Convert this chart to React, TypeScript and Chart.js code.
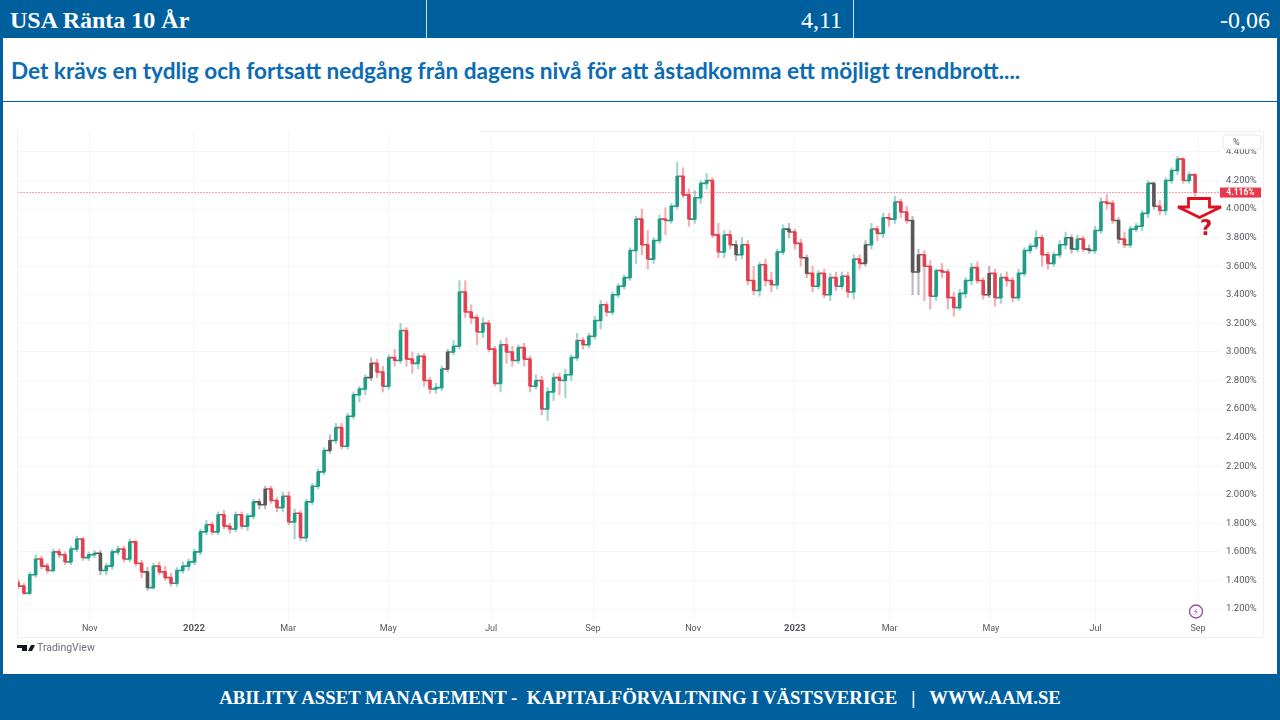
import React, { useEffect, useRef } from "react";
import { Chart, registerables } from "chart.js";

Chart.register(...registerables);

const headerTitle = "USA Ränta 10 År";
const headerValue = "4,11";
const headerChange = "-0,06";
const subtitle = "Det krävs en tydlig och fortsatt nedgång från dagens nivå för att åstadkomma ett möjligt trendbrott....";
const footerText = "ABILITY ASSET MANAGEMENT -  KAPITALFÖRVALTNING I VÄSTSVERIGE   |   WWW.AAM.SE";

const opens = [
  1.39,1.36,1.31,1.44,1.55,1.50,1.47,1.60,1.58,1.53,
  1.62,1.69,1.56,1.58,1.59,1.47,1.50,1.60,1.62,1.55,
  1.67,1.52,1.46,1.35,1.50,1.46,1.42,1.38,1.47,1.50,
  1.53,1.60,1.74,1.79,1.74,1.86,1.78,1.76,1.86,1.78,
  1.85,1.95,1.93,2.04,1.96,1.91,1.99,1.81,1.87,1.70,
  1.95,2.06,2.16,2.31,2.38,2.47,2.34,2.55,2.70,2.74,
  2.82,2.92,2.86,2.76,2.96,2.94,3.15,2.95,2.92,2.97,
  2.80,2.74,2.75,2.88,3.00,3.04,3.42,3.28,3.24,3.14,
  3.20,3.02,2.78,3.05,3.00,2.94,3.03,2.95,2.76,2.80,
  2.60,2.72,2.82,2.80,2.84,2.96,3.08,3.05,3.11,3.22,
  3.33,3.28,3.40,3.46,3.52,3.71,3.93,3.75,3.65,3.78,
  3.93,3.92,4.02,4.23,4.10,3.93,4.08,4.18,4.20,3.82,
  3.70,3.82,3.75,3.68,3.75,3.50,3.43,3.61,3.50,3.47,
  3.70,3.86,3.84,3.76,3.66,3.55,3.46,3.55,3.40,3.52,
  3.46,3.53,3.42,3.65,3.62,3.75,3.86,3.83,3.94,3.93,
  4.05,3.98,3.92,3.56,3.68,3.60,3.39,3.57,3.56,3.38,
  3.31,3.41,3.50,3.59,3.50,3.40,3.55,3.38,3.52,3.50,
  3.38,3.55,3.71,3.74,3.80,3.68,3.62,3.68,3.75,3.80,
  3.72,3.79,3.72,3.71,3.85,4.05,4.04,3.92,3.79,3.75,
  3.86,3.88,3.97,4.18,4.02,3.99,4.20,4.27,4.35,4.20,
  4.24,
];
const closes = [
  1.36,1.31,1.44,1.55,1.50,1.47,1.60,1.58,1.53,1.62,
  1.69,1.56,1.58,1.59,1.47,1.50,1.60,1.62,1.55,1.67,
  1.52,1.46,1.35,1.50,1.46,1.42,1.38,1.47,1.50,1.53,
  1.60,1.74,1.79,1.74,1.86,1.78,1.76,1.86,1.78,1.85,
  1.95,1.93,2.04,1.96,1.91,1.99,1.81,1.87,1.70,1.95,
  2.06,2.16,2.31,2.38,2.47,2.34,2.55,2.70,2.74,2.82,
  2.92,2.86,2.76,2.96,2.94,3.15,2.95,2.92,2.97,2.80,
  2.74,2.75,2.88,3.00,3.04,3.42,3.28,3.24,3.14,3.20,
  3.02,2.78,3.05,3.00,2.94,3.03,2.95,2.76,2.80,2.60,
  2.72,2.82,2.80,2.84,2.96,3.08,3.05,3.11,3.22,3.33,
  3.28,3.40,3.46,3.52,3.71,3.93,3.75,3.65,3.78,3.93,
  3.92,4.02,4.23,4.10,3.93,4.08,4.18,4.20,3.82,3.70,
  3.82,3.75,3.68,3.75,3.50,3.43,3.61,3.50,3.47,3.70,
  3.86,3.84,3.76,3.66,3.55,3.46,3.55,3.40,3.52,3.46,
  3.53,3.42,3.65,3.62,3.75,3.86,3.83,3.94,3.93,4.05,
  3.98,3.92,3.56,3.68,3.60,3.39,3.57,3.56,3.38,3.31,
  3.41,3.50,3.59,3.50,3.40,3.55,3.38,3.52,3.50,3.38,
  3.55,3.71,3.74,3.80,3.68,3.62,3.68,3.75,3.80,3.72,
  3.79,3.72,3.71,3.85,4.05,4.04,3.92,3.79,3.75,3.86,
  3.88,3.97,4.18,4.02,3.99,4.20,4.27,4.35,4.20,4.24,
  4.116,
];
const highs = [
  1.41,1.38,1.46,1.58,1.57,1.52,1.62,1.62,1.60,1.64,
  1.71,1.70,1.60,1.61,1.61,1.52,1.62,1.64,1.64,1.69,
  1.68,1.54,1.49,1.52,1.53,1.50,1.45,1.49,1.53,1.55,
  1.62,1.76,1.82,1.81,1.88,1.89,1.80,1.88,1.88,1.87,
  1.97,1.97,2.06,2.06,1.98,2.02,2.02,1.90,1.89,1.97,
  2.08,2.18,2.33,2.42,2.50,2.50,2.57,2.72,2.76,2.84,
  2.96,2.95,2.90,2.98,3.02,3.20,3.17,3.00,2.99,2.99,
  2.82,2.78,2.90,3.02,3.08,3.50,3.50,3.33,3.26,3.24,
  3.22,3.04,3.08,3.10,3.04,3.05,3.06,2.97,2.84,2.83,
  2.75,2.85,2.85,2.88,2.98,3.13,3.10,3.13,3.25,3.36,
  3.35,3.42,3.48,3.54,3.73,3.95,4.00,3.85,3.80,3.96,
  4.01,4.04,4.33,4.29,4.14,4.13,4.20,4.25,4.22,3.90,
  3.85,3.85,3.78,3.80,3.78,3.60,3.63,3.65,3.56,3.72,
  3.89,3.90,3.86,3.79,3.68,3.60,3.57,3.58,3.55,3.56,
  3.56,3.56,3.68,3.68,3.78,3.90,3.88,3.97,3.97,4.09,
  4.07,4.02,3.95,3.72,3.71,3.64,3.58,3.62,3.58,3.42,
  3.44,3.52,3.62,3.63,3.52,3.60,3.58,3.55,3.56,3.52,
  3.58,3.73,3.76,3.85,3.82,3.70,3.70,3.78,3.84,3.82,
  3.82,3.81,3.75,3.88,4.08,4.10,4.06,3.94,3.84,3.88,
  3.90,3.99,4.20,4.19,4.06,4.22,4.29,4.37,4.36,4.26,
  4.25,
];
const lows = [
  1.34,1.30,1.30,1.42,1.48,1.45,1.46,1.56,1.51,1.51,
  1.60,1.54,1.54,1.56,1.44,1.44,1.48,1.58,1.53,1.53,
  1.50,1.42,1.33,1.34,1.44,1.40,1.36,1.36,1.45,1.47,
  1.51,1.58,1.72,1.72,1.72,1.76,1.73,1.74,1.76,1.75,
  1.83,1.90,1.90,1.94,1.88,1.88,1.79,1.69,1.68,1.67,
  1.93,2.04,2.14,2.29,2.36,2.32,2.32,2.53,2.65,2.70,
  2.80,2.82,2.72,2.74,2.90,2.92,2.90,2.85,2.88,2.76,
  2.71,2.71,2.73,2.86,2.98,3.02,3.24,3.20,3.05,3.10,
  3.00,2.76,2.72,2.92,2.90,2.92,2.90,2.72,2.74,2.56,
  2.52,2.66,2.70,2.68,2.80,2.94,3.02,3.03,3.09,3.16,
  3.25,3.26,3.38,3.44,3.50,3.62,3.68,3.58,3.62,3.76,
  3.82,3.90,4.00,4.08,3.88,3.90,4.04,4.14,3.80,3.66,
  3.66,3.72,3.64,3.65,3.47,3.40,3.39,3.46,3.42,3.44,
  3.68,3.80,3.72,3.60,3.52,3.42,3.44,3.38,3.36,3.43,
  3.44,3.38,3.37,3.58,3.60,3.72,3.78,3.80,3.88,3.90,
  3.94,3.90,3.40,3.40,3.36,3.30,3.36,3.52,3.30,3.25,
  3.29,3.38,3.47,3.48,3.37,3.38,3.32,3.34,3.46,3.35,
  3.36,3.53,3.69,3.72,3.60,3.58,3.60,3.66,3.72,3.69,
  3.70,3.70,3.69,3.69,3.83,4.00,3.90,3.76,3.73,3.73,
  3.84,3.85,3.94,4.00,3.96,3.96,4.18,4.24,4.18,4.18,
  4.09,
];
const overlapCandles = [14, 22, 41, 42, 53, 60, 73, 122, 131, 134, 144, 152, 153, 165, 179, 182, 187, 193];

const monthPositions = [12.2, 29.9, 45.9, 62.9, 80.4, 97.7, 114.7, 132, 148.1, 165.3, 183.1, 200.5];
const monthLabels = ["Nov", "2022", "Mar", "May", "Jul", "Sep", "Nov", "2023", "Mar", "May", "Jul", "Sep"];
const yTickValues = [1.2, 1.4, 1.6, 1.8, 2.0, 2.2, 2.4, 2.6, 2.8, 3.0, 3.2, 3.4, 3.6, 3.8, 4.0, 4.2, 4.4];
const lastPrice = 4.116;
const xMin = -0.17;
const xMax = 204.4;

const BLUE = "#00609E";
const UP = "#1F9D87";
const DOWN = "#E5404F";
const MIX = "#5C5654";

const candleColor = (i: number) =>
  overlapCandles.includes(i) ? MIX : closes[i] >= opens[i] ? UP : DOWN;
const wickColor = (i: number) =>
  overlapCandles.includes(i) ? "rgba(90,85,84,0.4)" : closes[i] >= opens[i] ? "rgba(31,157,135,0.42)" : "rgba(229,64,79,0.42)";

const priceTag = {
  id: "priceTag",
  afterDraw(chart: any) {
    const { ctx, scales } = chart;
    const y = scales.y.getPixelForValue(lastPrice);
    ctx.save();
    ctx.fillStyle = "#E8394A";
    ctx.fillRect(1220, y - 5, 41, 10);
    ctx.fillStyle = "#fff";
    ctx.font = "bold 8.5px Roboto";
    ctx.textAlign = "center";
    ctx.textBaseline = "middle";
    ctx.fillText(lastPrice.toFixed(3) + "%", 1240.5, y + 0.5);
    ctx.restore();
  },
};

export default function App() {
  const ref = useRef<HTMLCanvasElement>(null);
  useEffect(() => {
    const chart = new Chart(ref.current!, {
      type: "bar",
      data: {
        datasets: [
          {
            type: "line",
            data: [{ x: xMin, y: lastPrice }, { x: xMax, y: lastPrice }],
            borderColor: "rgba(240,90,105,0.6)",
            borderWidth: 1,
            borderDash: [2, 1],
            pointRadius: 0,
            order: 4,
          },
          {
            data: closes.map((_, i) => ({ x: i, y: [lows[i], highs[i]] })),
            backgroundColor: closes.map((_, i) => wickColor(i)),
            barThickness: 1.5,
            grouped: false,
            order: 3,
          },
          {
            type: "line",
            data: closes.map((c, i) => ({ x: i, y: c })),
            stepped: true,
            borderWidth: 1.6,
            borderColor: UP,
            pointRadius: 0,
            segment: { borderColor: (c: any) => candleColor(c.p1DataIndex) },
            order: 2,
          },
          {
            data: closes.map((c, i) => ({ x: i, y: [opens[i], c] })),
            backgroundColor: closes.map((_, i) => candleColor(i)),
            barThickness: 3,
            minBarLength: 1,
            grouped: false,
            order: 1,
          },
        ] as any,
      },
      options: {
        animation: false,
        responsive: false,
        layout: { padding: { left: 17, right: 17, top: 131, bottom: 83 } },
        plugins: { legend: { display: false }, tooltip: { enabled: false } },
        scales: {
          x: {
            type: "linear",
            min: xMin,
            max: xMax,
            offset: false,
            afterBuildTicks: (axis: any) => {
              axis.ticks = monthPositions.map((value) => ({ value }));
            },
            afterFit: (axis: any) => {
              axis.height = 17;
            },
            grid: { color: "#F6F6F8", offset: false, drawTicks: false },
            border: { display: false },
            ticks: {
              autoSkip: false,
              maxRotation: 0,
              padding: 3,
              color: "#55585f",
              font: (c: any) => {
                const year = c.tick && /^20/.test(String(c.tick.label));
                return { family: "Roboto", size: year ? 9.5 : 9, weight: year ? "bold" : "normal" };
              },
              callback: (_v: any, i: number) => monthLabels[i],
            },
          },
          y: {
            type: "linear",
            position: "right",
            min: 1.123,
            max: 4.547,
            afterBuildTicks: (axis: any) => {
              axis.ticks = yTickValues.map((value) => ({ value }));
            },
            afterFit: (axis: any) => {
              axis.width = 42;
            },
            grid: { color: "#F6F6F8", drawTicks: false },
            border: { display: false },
            ticks: {
              padding: 5,
              color: "#55585f",
              font: { family: "Roboto", size: 9.5 },
              callback: (v: any) => Number(v).toFixed(3) + "%",
            },
          },
        },
      } as any,
      plugins: [priceTag],
    });
    return () => chart.destroy();
  }, []);

  return (
    <div style={{ position: "fixed", left: 0, top: 0, width: 1280, height: 720, background: "#fff", overflow: "hidden" }}>
      <div style={{ position: "absolute", left: 0, top: 0, width: 3, height: 720, background: BLUE }} />
      <div style={{ position: "absolute", left: 1277, top: 0, width: 3, height: 720, background: BLUE }} />
      <div style={{ position: "absolute", left: 0, top: 0, width: 1280, height: 38, background: BLUE, color: "#fff", fontFamily: "'Liberation Serif'", fontSize: 24 }}>
        <div style={{ position: "absolute", left: 10, top: 7, fontWeight: "bold", lineHeight: "26px", whiteSpace: "nowrap" }}>{headerTitle}</div>
        <div style={{ position: "absolute", right: 1280 - 842, top: 7, lineHeight: "26px" }}>{headerValue}</div>
        <div style={{ position: "absolute", right: 10, top: 7, lineHeight: "26px" }}>{headerChange}</div>
        <div style={{ position: "absolute", left: 426, top: 0, width: 1, height: 38, background: "#cfe0ec" }} />
        <div style={{ position: "absolute", left: 853, top: 0, width: 1, height: 38, background: "#cfe0ec" }} />
      </div>
      <div style={{ position: "absolute", left: 11, top: 57, color: "#0B6BB3", fontFamily: "Lato", fontWeight: "bold", fontSize: 22.58, lineHeight: "28px", whiteSpace: "nowrap" }}>{subtitle}</div>
      <div style={{ position: "absolute", left: 0, top: 101, width: 1280, height: 1, background: BLUE }} />
      <canvas ref={ref} width={1280} height={720} style={{ position: "absolute", left: 0, top: 0, width: 1280, height: 720, filter: "blur(0.55px)" }} />
      <svg width={1280} height={720} style={{ position: "absolute", left: 0, top: 0, pointerEvents: "none" }}>
        <g fill="none" stroke="#F0F0F2" strokeWidth={1}>
          <path d="M480.5 131.5H1263.5V637.5H17.5V131" />
        </g>
        <rect x={1223} y={135} width={38} height={14} rx={2} fill="#fff" stroke="#E8E8EA" />
        <text x={1233} y={145} fontSize={9} fontFamily="Roboto" fill="#555">%</text>
        <path d="M1188.5 198.5H1209.5V207H1221L1199.5 217.5L1178 207H1188.5Z" fill="#fff" stroke="#E01020" strokeWidth={2.8} strokeLinejoin="miter" />
        <text x={1206} y={235} textAnchor="middle" fontSize={21} fontWeight="bold" fontFamily="'DejaVu Sans'" fill="#D81020">?</text>
        <circle cx={1196} cy={611.5} r={6.5} fill="#fff" stroke="#9B4DB0" strokeWidth={1.4} />
        <text x={1196} y={615} textAnchor="middle" fontSize={9} fontFamily="'DejaVu Sans'" fill="#9B4DB0">⚡</text>
        <path d="M17 645H27V651H22V648H17ZM28 651L31 645H35L32 651Z" fill="#131722" />
        <text x={37} y={651} fontSize={10.5} fontFamily="Roboto" fill="#6a6d78">TradingView</text>
      </svg>
      <div style={{ position: "absolute", left: 0, top: 674, width: 1280, height: 46, background: BLUE, color: "#fff", fontFamily: "'Liberation Serif'", fontWeight: "bold", fontSize: 18.75, lineHeight: "47px", textAlign: "center", whiteSpace: "pre" }}>{footerText}</div>
    </div>
  );
}
